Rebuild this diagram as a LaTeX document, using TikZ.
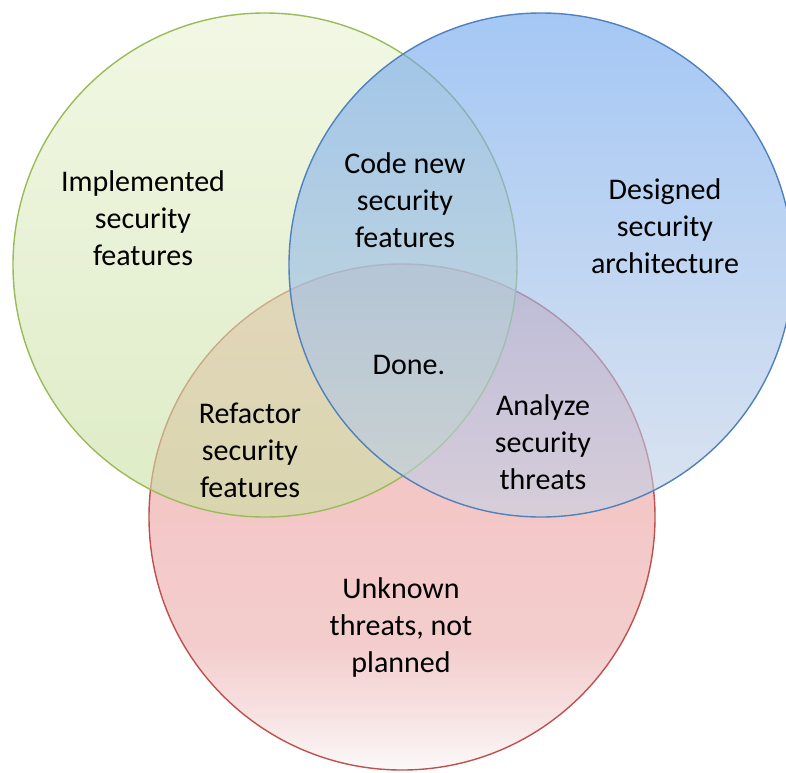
\documentclass[tikz,border=0pt]{standalone}
\usepackage{fontspec}
\setmainfont{Carlito}
\definecolor{gTop}{RGB}{233,243,210}
\definecolor{gBot}{RGB}{200,223,160}
\definecolor{bTop}{RGB}{105,163,238}
\definecolor{bBot}{RGB}{197,210,230}
\definecolor{rLine}{RGB}{192,80,77}
\definecolor{gLine}{RGB}{155,187,89}
\definecolor{bLine}{RGB}{79,129,189}
\pgfdeclareverticalshading{redfade}{100bp}{%
  rgb(0bp)=(0.98,0.96,0.96);
  rgb(25bp)=(0.98,0.96,0.96);
  rgb(30bp)=(0.953,0.824,0.824);
  rgb(37.5bp)=(0.925,0.675,0.675);
  rgb(50bp)=(0.933,0.64,0.64);
  rgb(75bp)=(0.91,0.57,0.57);
  rgb(100bp)=(0.91,0.57,0.57)}
\begin{document}
\begin{tikzpicture}[x=0.5pt,y=-0.5pt,
  lbl/.style={align=center,font=\fontsize{15}{18.5}\selectfont,text=black,inner sep=0pt},
  venn/.style={fill opacity=0.6},
  ring/.style={line width=0.7pt}]
\useasboundingbox (0,0) rectangle (786,772);
\clip (0,0) rectangle (786,772);
\fill[white] (0,0) rectangle (786,772);
% circles: red at the bottom, then green, then blue
\shade[venn,shading=redfade] (402,517) circle (253);
\draw[ring,draw=rLine] (402,517) circle (253);
\shade[venn,top color=gTop,bottom color=gBot] (265,265) circle (252);
\draw[ring,draw=gLine] (265,265) circle (252);
\shade[venn,top color=bTop,bottom color=bBot] (541,265) circle (252);
\draw[ring,draw=bLine] (541,265) circle (252);
% labels
\node[lbl] (impl) at (143,218) {Implemented\\security\\features};
\node[lbl] (code) at (405,200) {Code new\\security\\features};
\node[lbl] (design) at (665,226) {Designed\\security\\architecture};
\node[lbl] (done) at (409,365) {Done.};
\node[lbl] (refac) at (250,450) {Refactor\\security\\features};
\node[lbl] (analyze) at (543,442) {Analyze\\security\\threats};
\node[lbl] (unknown) at (401,627) {Unknown\\threats, not\\planned};
\end{tikzpicture}
\end{document}
